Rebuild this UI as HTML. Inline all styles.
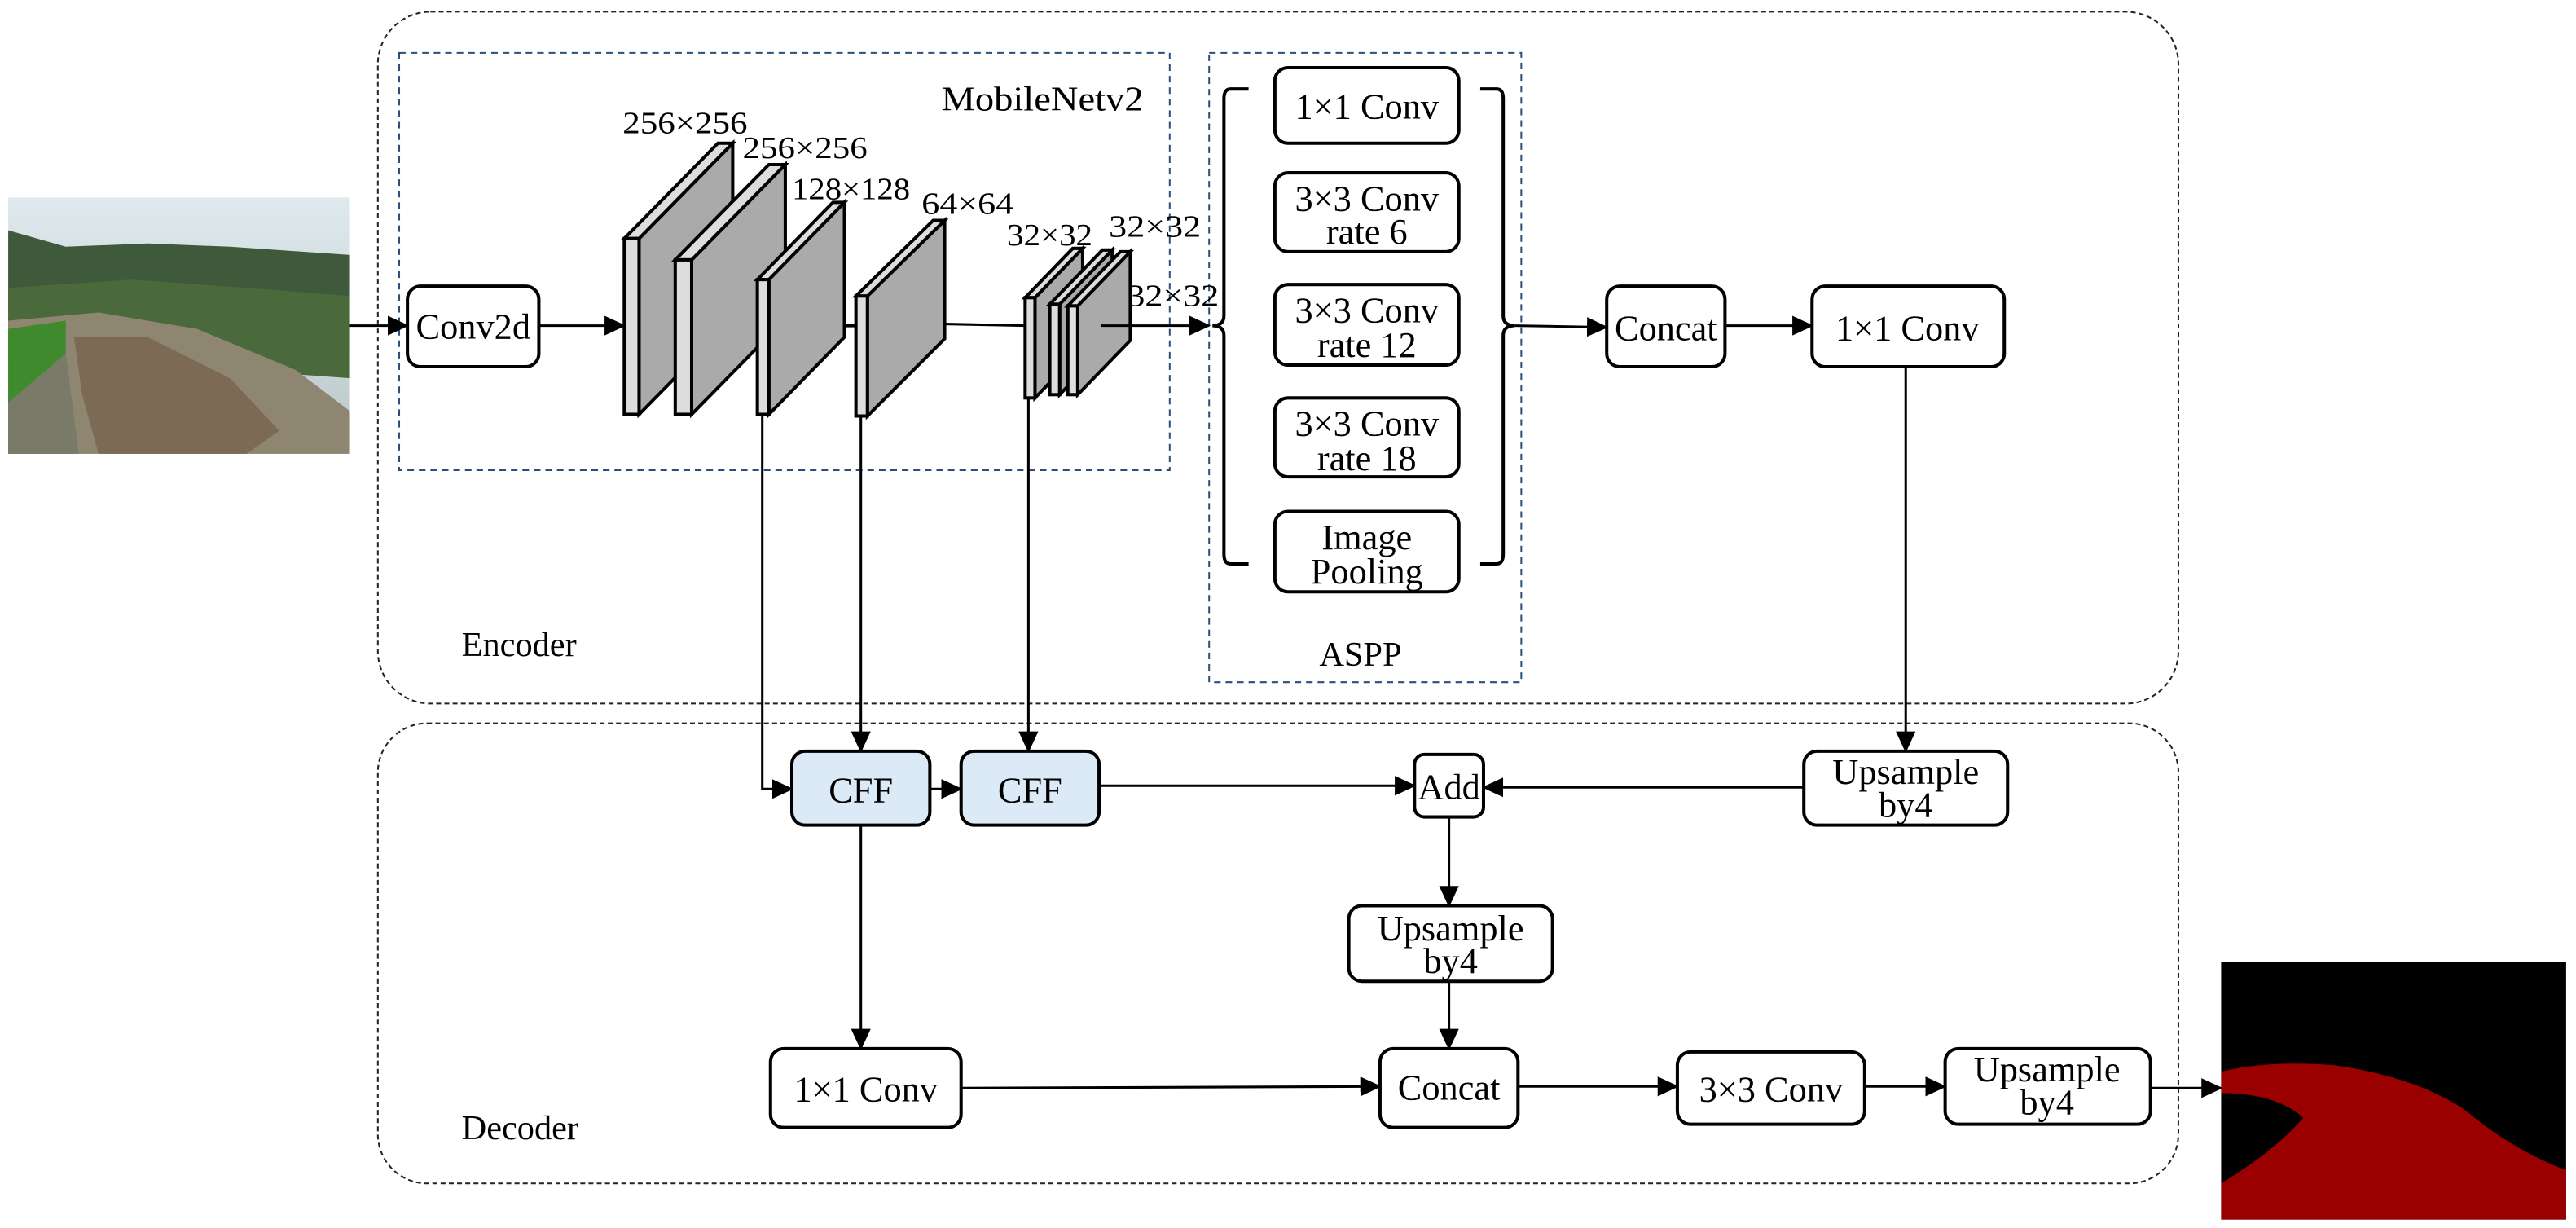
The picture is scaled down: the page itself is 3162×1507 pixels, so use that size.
<!DOCTYPE html>
<html><head><meta charset="utf-8"><style>
html,body{margin:0;padding:0;background:#fff}
svg{display:block}
</style></head><body>
<svg width="3162" height="1507" viewBox="0 0 1568 747" xmlns="http://www.w3.org/2000/svg" font-family="'Liberation Serif', 'DejaVu Serif', serif">
<defs>
<marker id="a" markerWidth="13" markerHeight="12" refX="12" refY="6" orient="auto" markerUnits="userSpaceOnUse"><path d="M0,0 L13,6 L0,12 z" fill="#000"/></marker>
<linearGradient id="sky" x1="0" y1="0" x2="0" y2="1"><stop offset="0" stop-color="#dfe9ee"/><stop offset="1" stop-color="#b9c8c8"/></linearGradient>
</defs>
<rect x="230" y="7" width="1096" height="421" rx="32" fill="none" stroke="#222" stroke-width="1" stroke-dasharray="3,2"/>
<rect x="230" y="440" width="1096" height="280" rx="30" fill="none" stroke="#222" stroke-width="1" stroke-dasharray="3,2"/>
<rect x="243" y="32" width="469" height="254" fill="none" stroke="#2b4f7a" stroke-width="1" stroke-dasharray="4,3"/>
<rect x="736" y="32" width="190" height="383" fill="none" stroke="#2b4f7a" stroke-width="1" stroke-dasharray="4,3"/>
<g>
<rect x="5" y="120" width="208" height="156" fill="url(#sky)"/>
<path d="M5,140 L40,150 L90,148 L140,150 L213,155 L213,215 L5,200 z" fill="#3e5a3a"/>
<path d="M5,175 L80,170 L150,175 L213,180 L213,230 L5,215 z" fill="#4b6a3c"/>
<path d="M5,195 L60,190 L120,200 L180,225 L213,250 L213,276 L5,276 z" fill="#8f8672"/>
<path d="M5,200 L40,195 L40,215 L5,245 z" fill="#3f8a2c"/>
<path d="M45,205 L90,205 L140,230 L170,262 L150,276 L60,276 L50,240 z" fill="#7d6a55"/>
<path d="M5,245 L40,215 L48,276 L5,276 z" fill="#7a7a68"/>
</g>
<line x1="213" y1="198" x2="248" y2="198" stroke="#000" stroke-width="1.5" marker-end="url(#a)"/>
<rect x="248" y="174" width="80" height="49" rx="8" fill="#fff" stroke="#000" stroke-width="2"/>
<text x="288" y="206" font-size="22" text-anchor="middle">Conv2d</text>
<line x1="328" y1="198" x2="380" y2="198" stroke="#000" stroke-width="1.5" marker-end="url(#a)"/>
<g stroke="#000" stroke-width="2" stroke-linejoin="miter">
<path d="M389,145 L446,87 L446,194 L389,252 z" fill="#aaa"/><path d="M380,145 L437,87 L446,87 L389,145 z" fill="#ddd"/><rect x="380" y="145" width="9" height="107" fill="#ddd"/>
<path d="M421,158 L478,100 L478,194 L421,252 z" fill="#aaa"/><path d="M411,158 L468,100 L478,100 L421,158 z" fill="#ddd"/><rect x="411" y="158" width="10" height="94" fill="#ddd"/>
<path d="M468,170 L514,123 L514,205 L468,252 z" fill="#aaa"/><path d="M461,170 L507,123 L514,123 L468,170 z" fill="#ddd"/><rect x="461" y="170" width="7" height="82" fill="#ddd"/>
<line x1="514" y1="198" x2="521" y2="198"/>
<path d="M528,180 L575,134 L575,206 L528,253 z" fill="#aaa"/><path d="M521,180 L568,134 L575,134 L528,180 z" fill="#ddd"/><rect x="521" y="180" width="7" height="73" fill="#ddd"/>
<path d="M575,197 L624,198" fill="none" stroke-width="1.5"/>
<path d="M630,181 L659,151 L659,212 L630,242 z" fill="#aaa"/><path d="M624,181 L653,151 L659,151 L630,181 z" fill="#ddd"/><rect x="624" y="181" width="6" height="61" fill="#ddd"/>
<path d="M645,185 L677,152 L677,207 L645,240 z" fill="#aaa"/><path d="M639,185 L671,152 L677,152 L645,185 z" fill="#ddd"/><rect x="639" y="185" width="6" height="55" fill="#ddd"/>
<path d="M656,186 L688,153 L688,207 L656,240 z" fill="#aaa"/><path d="M650,186 L682,153 L688,153 L656,186 z" fill="#ddd"/><rect x="650" y="186" width="6" height="54" fill="#ddd"/>
</g>
<line x1="670" y1="198" x2="736" y2="198" stroke="#000" stroke-width="1.5" marker-end="url(#a)"/>
<g font-size="19">
<text x="379" y="81" textLength="76" lengthAdjust="spacingAndGlyphs">256×256</text>
<text x="452" y="96" textLength="76" lengthAdjust="spacingAndGlyphs">256×256</text>
<text x="482" y="121" textLength="72" lengthAdjust="spacingAndGlyphs">128×128</text>
<text x="561" y="130" textLength="56" lengthAdjust="spacingAndGlyphs">64×64</text>
<text x="613" y="149" textLength="52" lengthAdjust="spacingAndGlyphs">32×32</text>
<text x="675" y="144" textLength="56" lengthAdjust="spacingAndGlyphs">32×32</text>
<text x="686" y="186" textLength="56" lengthAdjust="spacingAndGlyphs">32×32</text>
</g>
<text x="573" y="67" font-size="21" textLength="123" lengthAdjust="spacingAndGlyphs">MobileNetv2</text>
<g fill="#fff" stroke="#000" stroke-width="2">
<rect x="776" y="41" width="112" height="46" rx="8"/>
<rect x="776" y="105" width="112" height="48" rx="8"/>
<rect x="776" y="173" width="112" height="49" rx="8"/>
<rect x="776" y="242" width="112" height="48" rx="8"/>
<rect x="776" y="311" width="112" height="49" rx="8"/>
</g>
<g font-size="22" text-anchor="middle">
<text x="832" y="72">1×1 Conv</text>
<text x="832" y="128">3×3 Conv</text><text x="832" y="148">rate 6</text>
<text x="832" y="196">3×3 Conv</text><text x="832" y="217">rate 12</text>
<text x="832" y="265">3×3 Conv</text><text x="832" y="286">rate 18</text>
<text x="832" y="334">Image</text><text x="832" y="355">Pooling</text>
</g>
<path d="M760,54 L749,54 Q745,54 745,60 L745,192 Q745,198 738,198 Q745,198 745,204 L745,337 Q745,343 749,343 L760,343" fill="none" stroke="#000" stroke-width="2"/>
<path d="M901,54 L911,54 Q915,54 915,60 L915,192 Q915,198 922,198 Q915,198 915,204 L915,337 Q915,343 911,343 L901,343" fill="none" stroke="#000" stroke-width="2"/>
<line x1="922" y1="198" x2="978" y2="199" stroke="#000" stroke-width="1.5" marker-end="url(#a)"/>
<rect x="978" y="174" width="72" height="49" rx="8" fill="#fff" stroke="#000" stroke-width="2"/>
<text x="1014" y="207" font-size="22" text-anchor="middle">Concat</text>
<line x1="1050" y1="198" x2="1103" y2="198" stroke="#000" stroke-width="1.5" marker-end="url(#a)"/>
<rect x="1103" y="174" width="117" height="49" rx="8" fill="#fff" stroke="#000" stroke-width="2"/>
<text x="1161" y="207" font-size="22" text-anchor="middle">1×1 Conv</text>
<line x1="1160" y1="223" x2="1160" y2="457" stroke="#000" stroke-width="1.5" marker-end="url(#a)"/>
<text x="281" y="399" font-size="21">Encoder</text>
<text x="803" y="405" font-size="21">ASPP</text>
<text x="281" y="693" font-size="21">Decoder</text>
<g stroke="#000" stroke-width="1.5" fill="none">
<path d="M464,252 L464,480 L482,480" marker-end="url(#a)"/>
<line x1="524" y1="253" x2="524" y2="457" marker-end="url(#a)"/>
<line x1="626" y1="242" x2="626" y2="457" marker-end="url(#a)"/>
<line x1="566" y1="480" x2="585" y2="480" marker-end="url(#a)"/>
<line x1="669" y1="478" x2="861" y2="478" marker-end="url(#a)"/>
<line x1="1098" y1="479" x2="903" y2="479" marker-end="url(#a)"/>
<line x1="524" y1="502" x2="524" y2="638" marker-end="url(#a)"/>
<line x1="882" y1="497" x2="882" y2="551" marker-end="url(#a)"/>
<line x1="882" y1="597" x2="882" y2="638" marker-end="url(#a)"/>
<line x1="585" y1="662" x2="840" y2="661" marker-end="url(#a)"/>
<line x1="924" y1="661" x2="1021" y2="661" marker-end="url(#a)"/>
<line x1="1135" y1="661" x2="1184" y2="661" marker-end="url(#a)"/>
<line x1="1309" y1="662" x2="1352" y2="662" marker-end="url(#a)"/>
</g>
<g stroke="#000" stroke-width="2">
<rect x="482" y="457" width="84" height="45" rx="8" fill="#dbeaf6"/>
<rect x="585" y="457" width="84" height="45" rx="8" fill="#dbeaf6"/>
<rect x="861" y="459" width="42" height="38" rx="6" fill="#fff"/>
<rect x="1098" y="457" width="124" height="45" rx="8" fill="#fff"/>
<rect x="821" y="551" width="124" height="46" rx="8" fill="#fff"/>
<rect x="469" y="638" width="116" height="48" rx="8" fill="#fff"/>
<rect x="840" y="638" width="84" height="48" rx="8" fill="#fff"/>
<rect x="1021" y="640" width="114" height="44" rx="8" fill="#fff"/>
<rect x="1184" y="638" width="125" height="46" rx="8" fill="#fff"/>
</g>
<g font-size="22" text-anchor="middle">
<text x="524" y="488">CFF</text>
<text x="627" y="488">CFF</text>
<text x="882" y="486">Add</text>
<text x="1160" y="477">Upsample</text><text x="1160" y="497">by4</text>
<text x="883" y="572">Upsample</text><text x="883" y="592">by4</text>
<text x="527" y="670">1×1 Conv</text>
<text x="882" y="669">Concat</text>
<text x="1078" y="670">3×3 Conv</text>
<text x="1246" y="658">Upsample</text><text x="1246" y="678">by4</text>
</g>
<rect x="1352" y="585" width="210" height="157" fill="#000"/>
<path d="M1352,652 Q1380,645 1420,648 Q1470,655 1500,675 Q1530,700 1562,712 L1562,742 L1352,742 L1352,720 Q1385,700 1402,680 Q1385,665 1352,665 z" fill="#9a0000"/>
</svg>
</body></html>
